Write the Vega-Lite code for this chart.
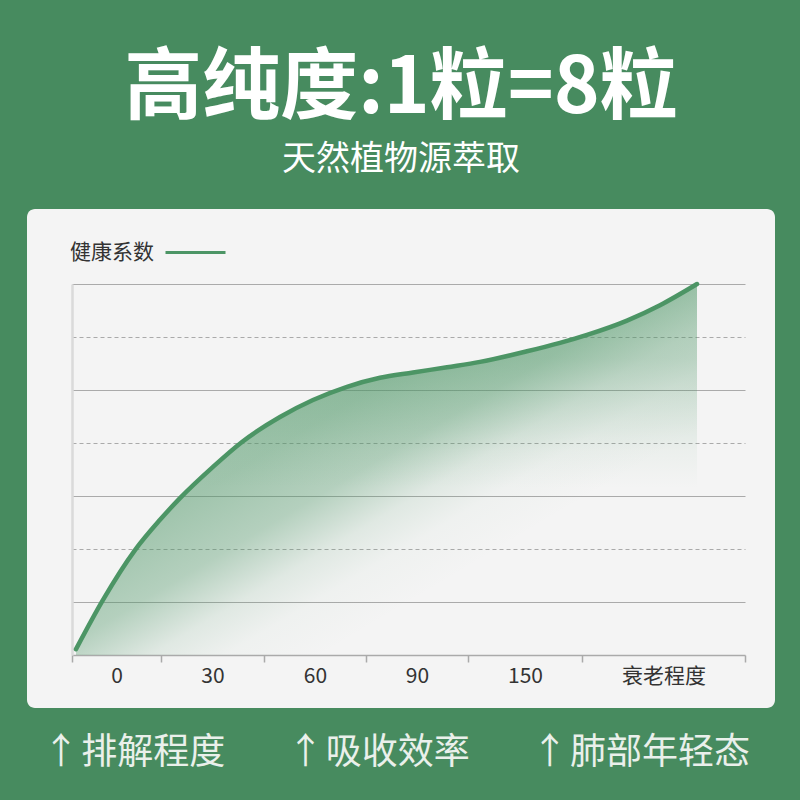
{
  "$schema": "https://vega.github.io/schema/vega-lite/v6.json",
  "autosize": "none",
  "width": 748,
  "height": 499,
  "padding": {"left": 27, "top": 209, "right": 25, "bottom": 92},
  "background": "#478b5f",
  "title": {
    "text": "高纯度:1粒=8粒",
    "subtitle": "天然植物源萃取",
    "anchor": "middle",
    "frame": "group",
    "offset": 32,
    "font": "Noto Sans CJK SC",
    "fontSize": 78,
    "fontWeight": "bold",
    "color": "#ffffff",
    "subtitleFont": "Noto Sans CJK SC",
    "subtitleFontSize": 34,
    "subtitleColor": "#ffffff",
    "subtitlePadding": 14
  },
  "data": {
    "values": [
      {"step": 4, "value": 0.11},
      {"step": 31, "value": 1.04},
      {"step": 63, "value": 1.98},
      {"step": 88, "value": 2.55},
      {"step": 108, "value": 2.96},
      {"step": 141, "value": 3.55},
      {"step": 170, "value": 4.02},
      {"step": 208, "value": 4.49},
      {"step": 241, "value": 4.81},
      {"step": 275, "value": 5.06},
      {"step": 308, "value": 5.23},
      {"step": 341, "value": 5.33},
      {"step": 375, "value": 5.43},
      {"step": 408, "value": 5.53},
      {"step": 455, "value": 5.73},
      {"step": 488, "value": 5.89},
      {"step": 515, "value": 6.04},
      {"step": 555, "value": 6.31},
      {"step": 588, "value": 6.6},
      {"step": 625, "value": 7.0}
    ]
  },
  "layer": [
    {
      "mark": {
        "type": "area",
        "interpolate": "monotone",
        "fillOpacity": 1,
        "fill": {
          "gradient": "linear",
          "x1": 0, "y1": 0, "x2": 1, "y2": 1,
          "stops": [
            {"offset": 0, "color": "rgba(76,149,101,0.55)"},
            {"offset": 0.38, "color": "rgba(76,149,101,0.5)"},
            {"offset": 0.48, "color": "rgba(76,149,101,0.38)"},
            {"offset": 0.56, "color": "rgba(76,149,101,0.12)"},
            {"offset": 0.62, "color": "rgba(76,149,101,0.03)"},
            {"offset": 0.7, "color": "rgba(76,149,101,0)"}
          ]
        }
      },
      "encoding": {
        "x": {
          "field": "step", "type": "quantitative",
          "scale": {"domain": [0, 673], "range": [45, 718], "nice": false, "zero": false},
          "axis": {
            "orient": "bottom", "offset": -53,
            "values": [44.5, 140.5, 243, 345, 453, 591.5],
            "labelExpr": "datum.value < 50 ? '0' : datum.value < 150 ? '30' : datum.value < 250 ? '60' : datum.value < 350 ? '90' : datum.value < 500 ? '150' : '衰老程度'",
            "ticks": false, "domain": false, "grid": false,
            "labelFont": "Noto Sans CJK SC", "labelFontSize": 21, "labelColor": "#333333",
            "labelPadding": 10, "labelFlush": false, "labelOverlap": false,
            "title": "↑\u200a排解程度　\u2002 ↑\u200a吸收效率　\u2002 ↑\u200a肺部年轻态",
            "titleX": 369, "titleY": 97, "titleAlign": "center", "titleBaseline": "middle",
            "titleFont": "Noto Sans CJK SC", "titleFontSize": 36, "titleFontWeight": "normal",
            "titleColor": "#eaf0eb"
          }
        },
        "y": {
          "field": "value", "type": "quantitative",
          "scale": {"domain": [0, 7], "range": [446, 75], "nice": false, "zero": false},
          "axis": {
            "orient": "left", "offset": -45,
            "values": [1, 2, 3, 4, 5, 6, 7],
            "labels": false, "ticks": false,
            "domain": true, "domainColor": "#dadada", "domainWidth": 2.5,
            "grid": true, "gridColor": "#aaaaaa", "gridWidth": 1.2,
            "gridDash": {"condition": {"test": "datum.value % 2 === 0", "value": [4, 3]}, "value": []},
            "title": null
          }
        }
      }
    },
    {
      "mark": {
        "type": "area",
        "interpolate": "monotone",
        "fillOpacity": 1,
        "fill": {
          "gradient": "linear",
          "x1": 0, "y1": 0, "x2": 0, "y2": 1,
          "stops": [
            {"offset": 0, "color": "rgba(76,149,101,0.35)"},
            {"offset": 0.2, "color": "rgba(76,149,101,0.3)"},
            {"offset": 0.45, "color": "rgba(76,149,101,0.05)"},
            {"offset": 0.55, "color": "rgba(76,149,101,0)"}
          ]
        }
      },
      "encoding": {
        "x": {
          "field": "step", "type": "quantitative",
          "scale": {"domain": [0, 673], "range": [45, 718], "nice": false, "zero": false},
          "axis": null
        },
        "y": {
          "field": "value", "type": "quantitative",
          "scale": {"domain": [0, 7], "range": [446, 75], "nice": false, "zero": false},
          "axis": {
            "orient": "left", "offset": -45,
            "values": [1, 2, 3, 4, 5, 6, 7],
            "labels": false, "ticks": false,
            "domain": true, "domainColor": "#dadada", "domainWidth": 2.5,
            "grid": true, "gridColor": "#aaaaaa", "gridWidth": 1.2,
            "gridDash": {"condition": {"test": "datum.value % 2 === 0", "value": [4, 3]}, "value": []},
            "title": null
          }
        }
      }
    },
    {
      "mark": {"type": "line", "interpolate": "monotone", "strokeWidth": 4.5, "strokeCap": "round"},
      "encoding": {
        "x": {
          "field": "step", "type": "quantitative",
          "scale": {"domain": [0, 673], "range": [45, 718], "nice": false, "zero": false},
          "axis": {
            "orient": "bottom", "offset": -53,
            "values": [0, 89, 192, 294, 396, 510, 673],
            "labels": false, "ticks": true, "tickSize": 7, "tickWidth": 1.5, "tickColor": "#aaaaaa",
            "domain": true, "domainColor": "#aaaaaa", "domainWidth": 1.5, "grid": false, "title": null
          }
        },
        "y": {
          "field": "value", "type": "quantitative",
          "scale": {"domain": [0, 7], "range": [446, 75], "nice": false, "zero": false},
          "axis": {
            "orient": "left", "offset": -45,
            "values": [1, 2, 3, 4, 5, 6, 7],
            "labels": false, "ticks": false,
            "domain": true, "domainColor": "#dadada", "domainWidth": 2.5,
            "grid": true, "gridColor": "#aaaaaa", "gridWidth": 1.2,
            "gridDash": {"condition": {"test": "datum.value % 2 === 0", "value": [4, 3]}, "value": []},
            "title": null
          }
        },
        "stroke": {
          "datum": "健康系数", "type": "nominal",
          "scale": {"range": ["#4c9565"]},
          "legend": {
            "orient": "none", "legendX": 43, "legendY": 12,
            "title": "健康系数", "titleOrient": "left",
            "titleAnchor": "end", "titleBaseline": "line-bottom", "titleLineHeight": 12,
            "titleFont": "Noto Sans CJK SC", "titleFontSize": 21, "titleFontWeight": "normal",
            "titleColor": "#333333", "titlePadding": 10,
            "labelExpr": "''", "symbolType": "stroke", "symbolSize": 3600, "symbolStrokeWidth": 3,
            "padding": 0
          }
        }
      }
    }
  ],
  "resolve": {"axis": {"x": "independent"}},
  "config": {
    "font": "Noto Sans CJK SC",
    "view": {"fill": "#f4f4f4", "cornerRadius": 8, "stroke": null}
  }
}
